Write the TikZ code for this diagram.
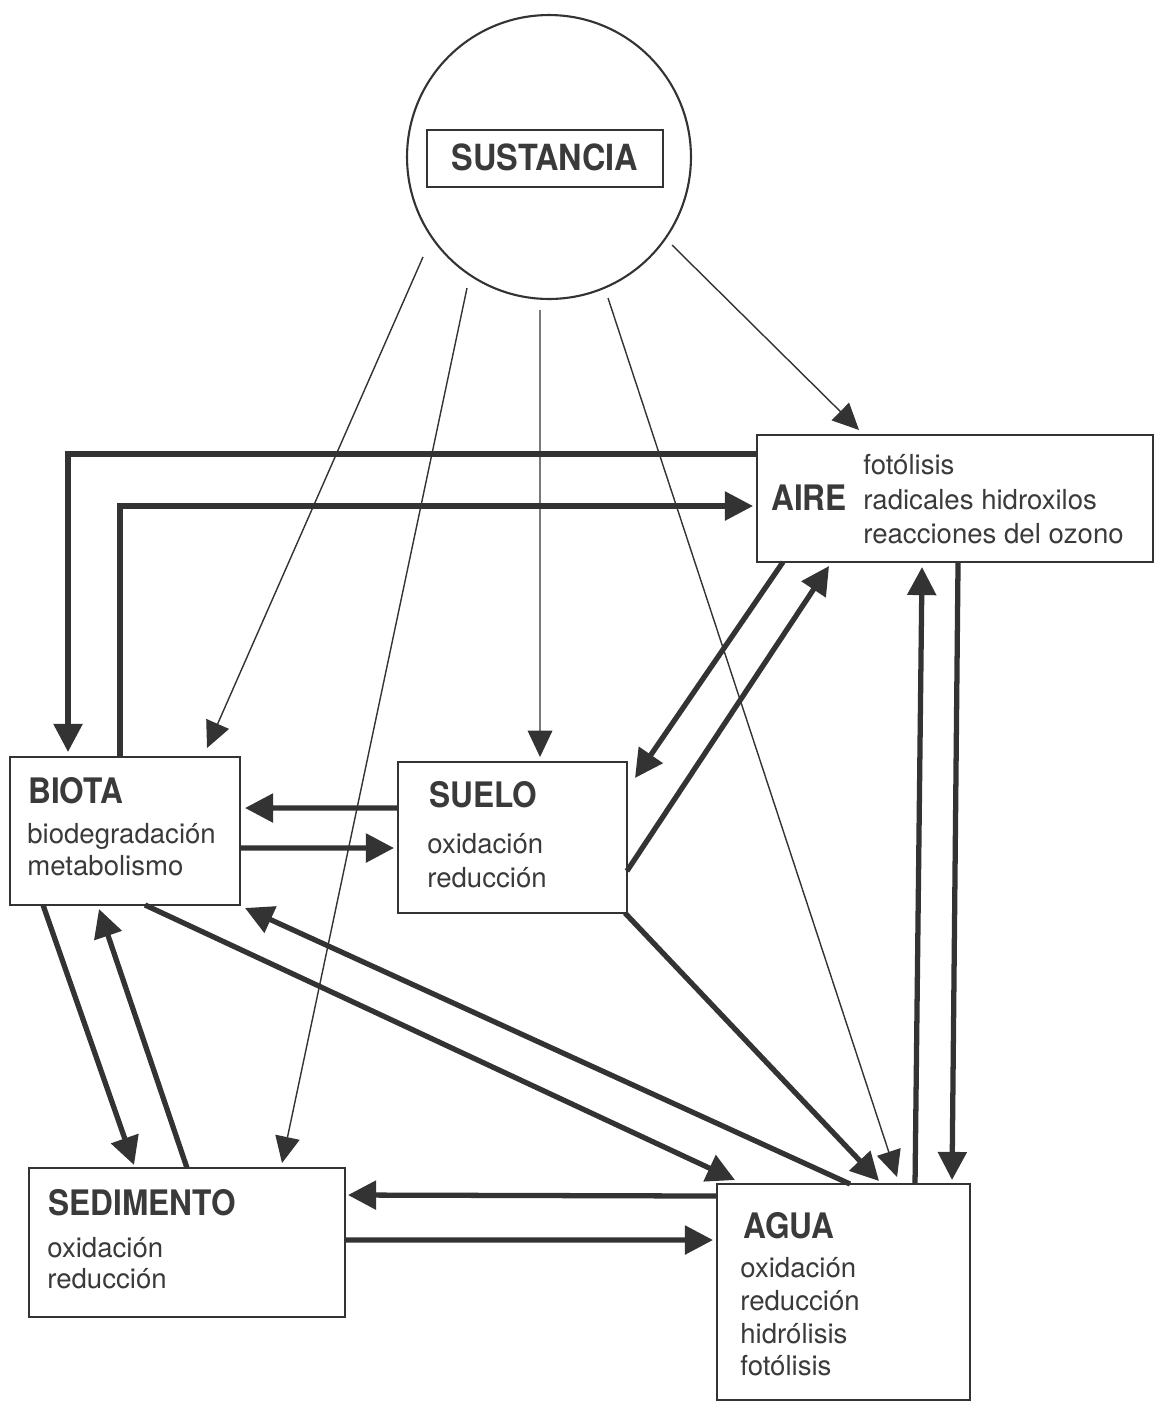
\documentclass[tikz,border=0pt]{standalone}
\usepackage{fontspec}
\setmainfont{TeX Gyre Heros}
\newfontfamily\condfont[FakeStretch=0.9]{TeX Gyre Heros}
\usetikzlibrary{arrows.meta,calc}
\definecolor{ink}{HTML}{333333}
\definecolor{txt}{HTML}{3A3A3A}
\begin{document}
\begin{tikzpicture}[x=0.02cm,y=-0.02cm,
  boxstyle/.style={draw=ink,line width=0.9pt,rectangle,inner sep=0pt,outer sep=0pt,fill=white},
  ttl/.style={anchor=base west,inner sep=0pt,text=txt,font=\condfont\fontsize{20}{22}\selectfont\bfseries},
  sub/.style={anchor=base west,inner sep=0pt,text=txt,font=\fontsize{15.7}{18}\selectfont},
  thinarr/.style={draw=ink,line width=0.8pt,-{Triangle[length=15pt,width=14pt]}},
  thickarr/.style={draw=ink,line width=3pt,-{Triangle[length=16pt,width=16pt]}}]
\useasboundingbox[fill=white] (0,0) rectangle (1155,1407);

% nodes
\node[draw=ink,line width=1.2pt,circle,minimum size=5.68cm,inner sep=0pt,outer sep=0pt] (circ) at (549,157) {};
\node[boxstyle,minimum width=4.72cm,minimum height=1.14cm] (sbox) at (545,158.5) {};
\node[anchor=base,inner sep=0pt,text=txt,font=\condfont\fontsize{20.5}{22}\selectfont\bfseries] (stext) at (545,170) {SUSTANCIA};

\node[boxstyle,minimum width=7.92cm,minimum height=2.54cm] (aire) at (955,498.5) {};
\node[boxstyle,minimum width=4.6cm,minimum height=2.96cm] (biota) at (125,831) {};
\node[boxstyle,minimum width=4.58cm,minimum height=3.02cm] (suelo) at (512.5,837.5) {};
\node[boxstyle,minimum width=6.32cm,minimum height=2.98cm] (sed) at (187,1242.5) {};
\node[boxstyle,minimum width=5.06cm,minimum height=4.32cm] (agua) at (843.5,1292) {};

% texts
\node[ttl] (airet) at (771,510) {AIRE};
\node[sub] (aire1) at (863,474) {fotólisis};
\node[sub] (aire2) at (863,509) {radicales hidroxilos};
\node[sub] (aire3) at (863,543) {reacciones del ozono};

\node[ttl] (biotat) at (28,803) {BIOTA};
\node[sub] (biota1) at (27,843) {biodegradación};
\node[sub] (biota2) at (27,875) {metabolismo};

\node[ttl] (suelot) at (429,807) {SUELO};
\node[sub] (suelo1) at (427,853) {oxidación};
\node[sub] (suelo2) at (427,887) {reducción};

\node[ttl] (sedt) at (48,1215) {SEDIMENTO};
\node[sub] (sed1) at (47,1257) {oxidación};
\node[sub] (sed2) at (47,1288) {reducción};

\node[ttl] (aguat) at (743,1238) {AGUA};
\node[sub] (agua1) at (740,1277) {oxidación};
\node[sub] (agua2) at (740,1310) {reducción};
\node[sub] (agua3) at (740,1343) {hidrólisis};
\node[sub] (agua4) at (740,1375) {fotólisis};

% thin arrows from the substance
\draw[thinarr] ($(circ.center)+(-126,100)$) -- ($(biota.north west)+(197,-9)$);
\draw[thinarr] ($(circ.center)+(-82,131)$) -- ($(sed.north west)+(253,-5)$);
\draw[thinarr] ($(circ.center)+(-9,153)$) -- ($(suelo.north west)+(142,-5)$);
\draw[thinarr] ($(circ.center)+(59,141)$) -- ($(agua.north west)+(180,-7)$);
\draw[thinarr] ($(circ.center)+(123,88)$) -- ($(aire.north west)+(102,-5)$);

% thick arrows
\draw[thickarr] ($(aire.north west)+(0,19)$) -| ($(biota.north west)+(58,-5)$);
\draw[thickarr] ($(biota.north west)+(110,0)$) |- ($(aire.north west)+(-4,71)$);
\draw[thickarr] ($(aire.south west)+(26,0)$) -- ($(suelo.north east)+(8,16)$);
\draw[thickarr] ($(suelo.north east)+(0,109)$) -- ($(aire.south west)+(72,4)$);
\draw[thickarr] ($(agua.north west)+(198,0)$) -- ($(aire.south west)+(165,5)$);
\draw[thickarr] ($(aire.south west)+(201,0)$) -- ($(agua.north west)+(235,-4)$);
\draw[thickarr] ($(suelo.north west)+(0,46)$) -- ($(biota.north east)+(5,51)$);
\draw[thickarr] ($(biota.north east)+(0,91)$) -- ($(suelo.north west)+(-4,86)$);
\draw[thickarr] ($(biota.south west)+(33,0)$) -- ($(sed.north west)+(105,-3)$);
\draw[thickarr] ($(sed.north west)+(158,0)$) -- ($(biota.south west)+(89,4)$);
\draw[thickarr] ($(biota.south west)+(135,0)$) -- ($(agua.north west)+(18,-4)$);
\draw[thickarr] ($(agua.north west)+(133,0)$) -- ($(biota.south east)+(5,3)$);
\draw[thickarr] ($(suelo.south east)+(-2,0)$) -- ($(agua.north west)+(162,-3)$);
\draw[thickarr] ($(agua.north west)+(0,12)$) -- ($(sed.north east)+(3,27)$);
\draw[thickarr] ($(sed.north east)+(0,72)$) -- ($(agua.north west)+(-4,56)$);
\end{tikzpicture}
\end{document}
